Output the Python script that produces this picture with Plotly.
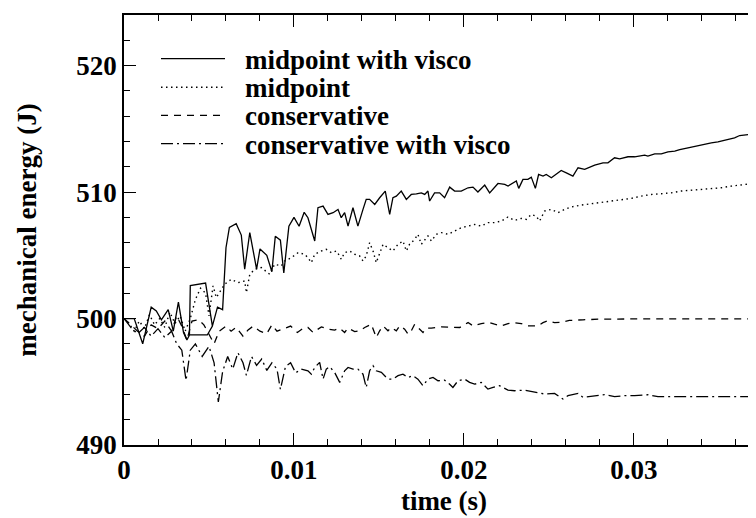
import plotly.graph_objects as go

# ---------------- data ----------------
series_names = ["midpoint with visco", "midpoint", "conservative", "conservative with visco"]

t_mv = [0, 0.0006, 0.0011, 0.0016, 0.0019, 0.0022, 0.0026, 0.0029, 0.0032, 0.0035, 0.0037,
        0.00385, 0.0039, 0.0048, 0.0052, 0.0049, 0.00385, 0.0049, 0.0052,
        0.0055, 0.0058, 0.0060, 0.0062, 0.0066, 0.0069, 0.0071,
        0.0074, 0.0078, 0.0080, 0.0084, 0.0087, 0.0089, 0.0092, 0.0094, 0.0097, 0.0100,
        0.0103, 0.0106,
        0.01082, 0.01122, 0.01141, 0.01171, 0.0120, 0.0123, 0.01259, 0.01278, 0.01298,
        0.01318, 0.01347, 0.01376, 0.01406, 0.01425, 0.01445, 0.01475, 0.01504, 0.01537,
        0.01563, 0.01582, 0.01602, 0.01631, 0.01661, 0.0169, 0.0172, 0.01749, 0.01769,
        0.01788, 0.01798, 0.01827, 0.01857, 0.01886, 0.01916, 0.01945, 0.01984, 0.02024,
        0.02053, 0.02082, 0.02122, 0.02151, 0.0220, 0.0224, 0.02259, 0.02288, 0.02308,
        0.02322, 0.02347, 0.02376, 0.02396, 0.0242, 0.02439, 0.02465, 0.02484, 0.02514,
        0.02543, 0.02572, 0.02602, 0.02641, 0.02671, 0.0271, 0.02769, 0.02818, 0.02847,
        0.02886, 0.02916, 0.02965, 0.03004, 0.03043, 0.03063, 0.03082, 0.03122, 0.03161,
        0.0320, 0.0324, 0.03269, 0.03318, 0.03376, 0.03416, 0.03455, 0.03494, 0.03553,
        0.03592, 0.03622, 0.03671, 0.0371, 0.0374, 0.03765]
e_mv = [500.0, 500.0, 498.0, 500.9, 500.6, 499.9, 500.7, 499.0, 501.3, 498.9, 498.3,
        498.7, 502.6, 502.8, 499.4, 498.7, 498.7, 498.7, 499.4,
        500.9, 500.7, 505.6, 507.2, 507.5, 506.6, 503.9,
        506.8, 503.9, 505.5, 505.0, 503.7, 506.5, 506.2, 503.6, 507.3, 508.0,
        507.3, 508.4,
        507.97, 506.13, 508.76, 508.89, 508.23, 508.37, 508.63, 507.97, 508.37,
        507.31, 508.76, 507.31, 508.63, 509.42, 509.42, 509.02, 509.55, 510.08,
        508.23, 509.55, 509.68, 510.08, 509.42, 509.81, 509.86, 509.94, 509.81,
        510.08, 509.29, 509.94, 509.94, 509.55, 510.39, 510.08, 510.08, 510.34,
        510.39, 510.0, 510.55, 509.94, 510.68, 510.6, 510.47, 510.73, 510.87,
        510.29, 511.0, 511.0, 511.18, 510.29, 511.39, 511.26, 511.39, 511.13,
        511.39, 511.71, 511.52, 511.26, 511.92, 511.79, 512.13, 512.31, 512.31,
        512.71, 512.63, 512.79, 512.79, 512.84, 512.92, 512.84, 513.02, 513.02,
        513.18, 513.24, 513.36, 513.5, 513.68, 513.81, 513.89, 513.97, 514.15,
        514.29, 514.47, 514.55, 514.6, 514.55, 514.65]

t_m = [0, 0.0003, 0.0006, 0.0009, 0.0012, 0.0015, 0.0018, 0.0021, 0.0024, 0.0027, 0.0030,
       0.0033, 0.0036, 0.0039, 0.0042, 0.0045, 0.0048, 0.0050, 0.00524, 0.00543, 0.00592,
       0.00631, 0.00671, 0.0071, 0.0072, 0.0074, 0.00769, 0.00808, 0.00857, 0.00886,
       0.00925, 0.00945, 0.00984, 0.01024, 0.01063,
       0.01082, 0.01102, 0.01122, 0.01161, 0.0119, 0.0122, 0.01249, 0.01269, 0.01278,
       0.01298, 0.01327, 0.01357, 0.01386, 0.01406, 0.01425, 0.01445, 0.01465, 0.01484,
       0.01504, 0.01524, 0.01553, 0.01582, 0.01612, 0.01641, 0.01661, 0.0168, 0.0171,
       0.01729, 0.01749, 0.01769, 0.01788, 0.01808, 0.01837, 0.01867, 0.01906, 0.01945,
       0.01984, 0.02024, 0.02063, 0.02102, 0.02141, 0.0218, 0.0222, 0.02259, 0.02298,
       0.02337, 0.02367, 0.02396, 0.02425, 0.02445, 0.02474, 0.02514, 0.02553, 0.02592,
       0.02631, 0.0269, 0.02749, 0.02808, 0.02867, 0.02925, 0.02984, 0.03043, 0.03102,
       0.03161, 0.0322, 0.03278, 0.03337, 0.03396, 0.03455, 0.03514, 0.03573, 0.03631,
       0.0369, 0.03749, 0.03765]
e_m = [500.0, 499.6, 499.0, 499.8, 499.2, 500.3, 499.5, 500.0, 499.3, 500.5, 499.6,
       500.2, 499.0, 500.0, 501.5, 502.4, 502.0, 500.2, 502.58, 501.66, 502.71,
       503.1, 502.84, 502.97, 502.05, 503.5, 503.89, 504.03, 503.5, 504.29,
       504.16, 504.55, 504.81, 505.21, 505.08,
       504.81, 504.42, 505.08, 505.34, 505.47, 505.21, 505.34, 504.95, 504.68,
       505.21, 505.34, 505.08, 504.95, 504.55, 504.95, 506.0, 505.34, 504.42,
       505.08, 505.87, 505.6, 505.34, 505.87, 506.13, 505.34, 505.87, 506.26,
       506.66, 505.87, 506.26, 506.53, 506.13, 506.66, 506.79, 506.66, 506.92,
       507.18, 507.31, 507.44, 507.31, 507.58, 507.58, 507.71, 508.03, 507.76,
       507.92, 507.84, 508.23, 508.1, 507.71, 508.5, 508.63, 508.37, 508.63,
       508.82, 508.97, 509.08, 509.16, 509.29, 509.42, 509.5, 509.68, 509.81,
       509.87, 509.94, 510.08, 510.13, 510.21, 510.29, 510.34, 510.47, 510.55,
       510.66, 510.81, 510.85]

t_c = [0, 0.0004, 0.0008, 0.0012, 0.0016, 0.0020, 0.0024, 0.0028, 0.0031, 0.0034, 0.0037,
       0.0040, 0.0044, 0.0047, 0.0050, 0.0053, 0.0056, 0.0060, 0.0063, 0.0066, 0.0070,
       0.0073, 0.0076, 0.0080, 0.0084, 0.0087, 0.0090, 0.0094, 0.0098, 0.0102, 0.0106,
       0.01082, 0.01112, 0.01161, 0.0120, 0.01239, 0.01269, 0.01298, 0.01318, 0.01357,
       0.01386, 0.01416, 0.01455, 0.01484, 0.01504, 0.01524, 0.01553, 0.01573, 0.01602,
       0.01622, 0.01651, 0.01671, 0.0169, 0.0171, 0.01729, 0.01759, 0.01778, 0.01808,
       0.01867, 0.01945, 0.01975, 0.02024, 0.02053, 0.02102, 0.02151, 0.0218, 0.0222,
       0.02259, 0.02288, 0.02337, 0.02376, 0.02435, 0.02465, 0.02494, 0.02533, 0.0257,
       0.0262, 0.0270, 0.0280, 0.0300, 0.0340, 0.03765]
e_c = [500.0, 499.5, 499.0, 498.6, 499.5, 499.2, 499.8, 499.0, 500.2, 499.4, 498.3,
       499.8, 499.9, 499.5, 498.8, 498.0, 499.0, 499.4, 499.0, 499.3, 498.6,
       499.1, 499.4, 499.0, 498.8, 499.5, 499.0, 499.2, 499.4, 498.9, 499.3,
       499.29, 498.9, 499.34, 499.16, 499.08, 499.24, 498.9, 499.24, 498.97,
       499.03, 499.29, 499.55, 498.5, 499.03, 499.42, 499.03, 499.29, 499.03,
       499.42, 499.16, 498.76, 499.03, 499.55, 499.29, 498.9, 499.24, 499.24,
       499.34, 499.34, 499.29, 499.68, 499.42, 499.6, 499.68, 499.55, 499.42,
       499.6, 499.68, 499.6, 499.42, 499.42, 499.68, 499.82, 499.68, 499.7,
       499.85, 499.9, 499.95, 499.97, 499.97, 499.97]

t_cv = [0, 0.0004, 0.0008, 0.0012, 0.0016, 0.0020, 0.0024, 0.0028, 0.0031, 0.0034, 0.00365,
        0.0039, 0.0042, 0.0046, 0.0050, 0.0053, 0.00555, 0.0058, 0.0061, 0.0064, 0.0067,
        0.0070, 0.0072, 0.0075, 0.0078, 0.0081, 0.0084, 0.0087, 0.0090, 0.0092, 0.0095,
        0.0098, 0.0101, 0.0104,
        0.01082, 0.01102, 0.01122, 0.01151, 0.01171, 0.0119, 0.0121, 0.01239, 0.01269,
        0.01298, 0.01318, 0.01347, 0.01376, 0.01406, 0.01425, 0.01445, 0.01465, 0.01484,
        0.01514, 0.01543, 0.01563, 0.01582, 0.01612, 0.01641, 0.01671, 0.0170, 0.01729,
        0.01759, 0.01788, 0.01818, 0.01847, 0.01886, 0.01916, 0.01935, 0.01965, 0.02004,
        0.02033, 0.02063, 0.02102, 0.02141, 0.02171, 0.0221, 0.02259, 0.02298, 0.02357,
        0.02416, 0.02475, 0.02533, 0.02582, 0.02612, 0.02671, 0.0270, 0.02769, 0.02827,
        0.02886, 0.02945, 0.03004, 0.03082, 0.03141, 0.03278, 0.03475, 0.03671, 0.03765]
e_cv = [500.0, 499.3, 498.8, 499.3, 498.6, 499.2, 498.5, 499.0, 498.0, 497.5, 495.1,
        497.5, 498.0, 497.0, 497.8, 496.5, 493.4, 495.8, 497.0, 496.0, 497.3,
        496.5, 495.5, 497.0, 496.3, 496.8, 495.9, 496.5, 496.0, 494.4, 496.2,
        496.5, 495.7, 496.0,
        495.87, 495.6, 496.13, 496.53, 495.21, 496.0, 496.19, 495.74, 494.95,
        495.87, 496.13, 496.0, 496.0, 495.6, 494.55, 495.87, 496.27, 495.87,
        495.74, 495.34, 495.21, 495.21, 495.48, 495.6, 495.34, 495.48, 495.21,
        494.69, 495.21, 495.34, 495.08, 495.13, 494.81, 494.55, 495.08, 495.21,
        494.95, 494.81, 494.95, 494.42, 494.55, 494.69, 494.34, 494.29, 494.34,
        494.16, 494.03, 494.08, 493.63, 493.9, 494.08, 493.77, 493.9, 493.98,
        493.82, 493.9, 493.9, 493.98, 493.82, 493.82, 493.82, 493.82, 493.82]

x_tickvals = [0, 0.01, 0.02, 0.03]
x_ticktext = ["0", "0.01", "0.02", "0.03"]
y_tickvals = [490, 500, 510, 520]
y_ticktext = ["490", "500", "510", "520"]

# ---------------- style ----------------
FONT = "Liberation Serif, Times New Roman, serif"
W, H = 756, 518
ML, MR, MT, MB = 116, 0, 7, 81
styles = [
    dict(color="black", width=1.3, dash="solid"),
    dict(color="black", width=1.4, dash="1.5px,3.5px"),
    dict(color="black", width=1.3, dash="7px,6px"),
    dict(color="black", width=1.3, dash="12px,4px,2px,4px"),
]

fig = go.Figure()
for (tx, ey), name, st in zip([(t_mv, e_mv), (t_m, e_m), (t_c, e_c), (t_cv, e_cv)],
                              series_names, styles):
    fig.add_trace(go.Scatter(x=tx, y=ey, mode="lines", name=name, line=st,
                             showlegend=False))

# manual legend (sample lines + labels) in pixel-like layout positions
pw, ph = W - ML - MR, H - MT - MB
def px_x(p):
    return (p - ML) / pw
def px_y(p):
    return (H - MB - p) / ph

row_y = [50.7, 79.3, 107.3, 135.7]
for name, st, ry in zip(series_names, styles, row_y):
    fig.add_shape(type="line", xref="paper", yref="paper",
                  x0=px_x(153), x1=px_x(217), y0=px_y(ry), y1=px_y(ry),
                  line=dict(color="black", width=st["width"], dash=st["dash"]))
    fig.add_annotation(xref="paper", yref="paper", x=px_x(235), y=px_y(ry + 1),
                       xanchor="left", yanchor="middle", showarrow=False, text=name,
                       font=dict(family=FONT, size=27, color="black", weight="bold"))

axis_font = dict(family=FONT, size=27, color="black", weight="bold")
fig.update_layout(
    width=W, height=H,
    margin=dict(l=ML, r=MR, t=MT, b=MB, pad=0),
    paper_bgcolor="white", plot_bgcolor="white",
    font=axis_font,
    xaxis=dict(range=[0, 0.03765], showgrid=False, zeroline=False,
               showline=True, linecolor="black", linewidth=1.5, mirror="ticks",
               ticks="inside", ticklen=12, tickwidth=1.3, tickcolor="black",
               tickvals=x_tickvals, ticktext=x_ticktext, tickfont=axis_font,
               minor=dict(dtick=0.002, tick0=0, ticks="inside", ticklen=6,
                          tickwidth=1.3, tickcolor="black", showgrid=False),
               title=dict(text="time (s)", font=axis_font, standoff=7)),
    yaxis=dict(range=[490, 524], showgrid=False, zeroline=False,
               showline=True, linecolor="black", linewidth=1.5, mirror=False,
               ticks="inside", ticklen=12, tickwidth=1.3, tickcolor="black",
               tickvals=y_tickvals, ticktext=y_ticktext, tickfont=axis_font,
               minor=dict(dtick=2, tick0=490, ticks="inside", ticklen=6,
                          tickwidth=1.3, tickcolor="black", showgrid=False),
               title=dict(text="mechanical energy (J)", font=axis_font, standoff=32)),
)
fig.write_html("out.html")
